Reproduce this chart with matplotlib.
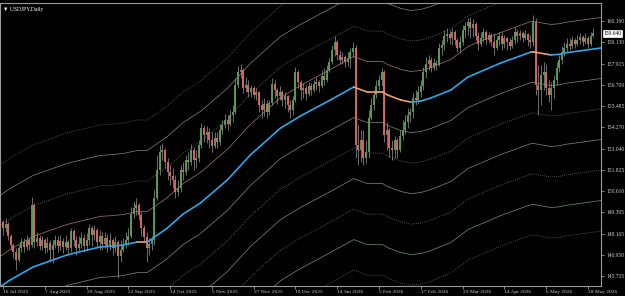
import matplotlib

matplotlib.use("Agg")

import matplotlib.pyplot as plt
import numpy as np

plt.rcParams["font.family"] = ["Liberation Serif", "DejaVu Sans"]

# daily candles, USDJPY, 16 Jul 2025 onwards (bar index = trading day)
first_open = 148.83
closes = [
    148.48, 148.71, 148.03, 147.51, 147.11, 146.65, 147.34, 147.68, 147.40, 147.80,
    147.51, 149.80, 147.68, 147.91, 147.45, 147.80, 147.34, 147.62, 147.22, 147.51,
    147.80, 147.45, 147.74, 147.40, 147.68, 147.34, 148.31, 147.80, 147.34, 147.57,
    147.91, 147.45, 147.80, 148.48, 148.08, 148.37, 147.68, 148.03, 147.57, 147.91,
    147.45, 147.80, 147.34, 147.68, 146.88, 147.22, 147.51, 147.80, 148.03, 149.29,
    149.63, 149.80, 149.23, 148.48, 147.97, 147.34, 147.57, 147.80, 150.20, 151.81,
    152.84, 152.96, 152.27, 151.70, 151.47, 151.24, 150.55, 150.78, 151.81, 151.70,
    152.38, 152.27, 152.96, 152.38, 152.50, 153.24, 154.22, 153.82, 153.99, 153.53,
    153.19, 153.65, 153.42, 154.10, 154.39, 154.68, 154.45, 154.96, 155.14, 156.69,
    157.43, 157.55, 156.51, 156.69, 156.28, 156.51, 156.11, 156.28, 155.54, 155.25,
    155.60, 155.14, 155.65, 156.74, 156.40, 156.05, 156.28, 155.83, 156.05, 155.54,
    155.25, 155.83, 157.43, 156.86, 156.40, 156.51, 156.17, 156.63, 156.40, 156.74,
    156.86, 156.63, 157.20, 156.97, 157.55, 158.00, 158.69, 159.15, 158.41, 158.12,
    158.29, 158.00, 158.23, 158.58, 158.81, 153.24, 152.96, 153.53, 152.50, 152.84,
    154.79, 155.54, 156.11, 156.63, 156.97, 157.43, 153.82, 154.10, 153.07, 152.96,
    153.53, 152.96, 153.76, 154.10, 154.56, 154.96, 155.14, 155.94, 155.83, 156.28,
    156.63, 157.43, 157.89, 158.12, 157.66, 157.95, 157.83, 158.81, 158.98, 159.50,
    159.61, 159.38, 159.72, 159.27, 158.81, 159.15, 159.84, 160.07, 160.30, 159.95,
    160.18, 159.50, 159.04, 159.38, 159.72, 159.27, 159.55, 159.15, 158.81, 159.27,
    159.50, 159.04, 159.38, 159.15, 158.92, 159.27, 159.72, 159.50, 159.67, 159.38,
    159.61, 159.27, 159.15, 160.30, 156.69, 156.40, 157.26, 157.43, 156.51, 156.11,
    156.51, 156.97, 157.66, 158.12, 158.58, 158.81, 159.04, 158.92, 159.27, 159.04,
    159.27, 159.44, 159.15, 159.38, 159.04, 159.50, 159.67,
]
highs = [
    148.94, 149.06, 148.83, 148.14, 147.62, 147.34, 147.51, 147.91, 147.91, 148.08,
    147.91, 150.26, 149.92, 148.25, 148.08, 148.03, 147.91, 147.97, 147.80, 147.80,
    148.08, 148.03, 148.08, 147.91, 148.08, 147.80, 148.48, 148.43, 148.03, 148.03,
    148.25, 148.14, 148.20, 148.71, 148.60, 148.66, 148.48, 148.37, 148.25, 148.25,
    148.14, 148.20, 147.91, 148.03, 147.80, 147.80, 147.91, 148.25, 148.48, 149.69,
    149.98, 150.20, 149.92, 149.40, 148.66, 148.25, 147.91, 148.03, 150.66, 152.67,
    153.24, 153.36, 153.07, 152.50, 152.10, 151.93, 151.52, 151.24, 152.10, 152.27,
    152.67, 152.84, 153.30, 153.13, 152.96, 153.53, 154.50, 154.39, 154.33, 154.22,
    153.99, 153.99, 153.99, 154.45, 154.68, 155.02, 154.96, 155.25, 155.54, 157.09,
    157.77, 157.89, 157.66, 157.14, 156.97, 156.69, 156.63, 156.51, 156.28, 155.83,
    155.94, 155.83, 155.83, 157.09, 156.97, 156.51, 156.63, 156.40, 156.28, 156.11,
    155.83, 156.05, 157.72, 157.55, 156.97, 156.80, 156.69, 156.86, 156.80, 156.97,
    157.14, 156.97, 157.55, 157.66, 157.83, 158.23, 158.98, 159.50, 159.27, 158.69,
    158.58, 158.41, 158.58, 158.81, 159.15, 158.98, 154.39, 154.10, 154.10, 153.53,
    155.25, 155.94, 156.40, 156.97, 157.26, 157.66, 157.55, 154.56, 154.22, 153.53,
    153.76, 153.65, 154.10, 154.68, 154.96, 155.37, 155.37, 156.23, 156.40, 156.63,
    156.97, 157.72, 158.29, 158.41, 158.29, 158.23, 158.12, 159.09, 159.27, 159.84,
    159.95, 159.84, 159.95, 159.84, 159.38, 159.50, 160.13, 160.30, 160.53, 160.59,
    160.47, 160.30, 159.72, 159.72, 159.95, 159.84, 159.72, 159.67, 159.67, 159.50,
    159.72, 159.72, 159.55, 159.44, 159.38, 159.50, 160.01, 159.90, 159.84, 159.78,
    159.84, 159.67, 159.55, 160.70, 160.53, 157.83, 157.83, 158.00, 157.89, 156.97,
    156.86, 157.26, 158.00, 158.41, 158.92, 159.15, 159.38, 159.38, 159.50, 159.38,
    159.55, 159.67, 159.55, 159.67, 159.50, 159.72, 159.95,
]
lows = [
    148.08, 148.25, 147.80, 147.22, 146.76, 146.08, 146.54, 147.11, 147.11, 147.22,
    147.22, 147.40, 147.34, 147.45, 147.22, 147.22, 147.05, 147.11, 146.54, 146.48,
    147.34, 147.11, 147.22, 147.05, 147.22, 146.94, 147.11, 147.45, 146.94, 147.11,
    147.34, 147.11, 147.22, 147.51, 147.45, 147.80, 147.34, 147.22, 147.22, 147.34,
    147.11, 147.22, 146.94, 147.11, 145.62, 146.54, 147.11, 147.34, 147.51, 147.91,
    149.06, 149.23, 148.94, 148.03, 147.68, 146.54, 146.94, 147.22, 147.51, 150.09,
    151.52, 152.38, 151.93, 151.24, 150.95, 150.78, 150.20, 150.32, 150.55, 151.24,
    151.52, 151.81, 152.10, 151.81, 151.93, 152.27, 153.07, 153.42, 153.36, 153.07,
    152.84, 153.07, 153.07, 153.24, 153.88, 154.22, 154.10, 154.33, 154.56, 155.02,
    156.51, 157.09, 156.23, 156.28, 156.00, 156.00, 155.94, 155.83, 155.14, 154.79,
    154.91, 154.79, 154.96, 155.54, 155.94, 155.60, 155.83, 155.48, 155.37, 155.14,
    154.79, 154.96, 155.71, 156.51, 155.83, 155.94, 155.83, 156.05, 156.11, 156.28,
    156.40, 156.28, 156.51, 156.69, 156.86, 157.43, 157.89, 158.35, 158.12, 157.89,
    157.89, 157.72, 157.77, 157.66, 158.29, 152.50, 152.10, 152.27, 152.10, 152.21,
    152.50, 154.68, 155.25, 155.94, 156.40, 156.63, 153.42, 152.96, 152.56, 152.38,
    152.50, 152.50, 152.84, 153.53, 153.88, 154.22, 154.56, 154.79, 155.54, 155.60,
    156.00, 156.40, 157.09, 157.55, 157.43, 157.55, 157.55, 157.77, 158.41, 158.69,
    159.15, 159.04, 158.98, 158.98, 158.58, 158.52, 158.98, 159.38, 159.55, 159.38,
    159.44, 159.27, 158.69, 158.92, 159.15, 159.04, 159.09, 158.92, 158.41, 158.69,
    158.98, 158.69, 158.81, 158.69, 158.69, 158.81, 159.04, 159.15, 159.27, 159.15,
    159.27, 158.92, 158.81, 158.92, 156.11, 154.96, 155.54, 156.40, 156.11, 155.71,
    155.25, 155.94, 156.69, 157.43, 157.89, 158.35, 158.58, 158.69, 158.75, 158.81,
    158.92, 159.04, 158.92, 159.04, 158.81, 158.92, 159.44,
]

# moving average at these bar positions
ma_bar = [-1.2, 2.7, 11.5, 24.5, 32.2, 37.2, 42.2, 46, 51.4, 55.2, 56.4, 62.9, 69,
          75.6, 85.9, 94.7, 106.3, 113.9, 125.4, 134.3, 139.6, 143.5, 145.4, 147.3,
          152.3, 156.1, 160, 163.8, 171.5, 178, 190.6, 202.2, 203.3, 209.8, 213.7,
          214.8, 229]
ma_val = [145.10, 145.50, 146.25, 146.94, 147.22, 147.40, 147.45, 147.51, 147.68,
          147.68, 147.80, 148.48, 149.29, 149.92, 151.24, 152.67, 154.22, 154.91,
          155.83, 156.57, 156.28, 156.28, 156.28, 156.11, 155.83, 155.71, 155.77,
          155.94, 156.40, 157.14, 157.95, 158.58, 158.58, 158.41, 158.46, 158.52,
          158.81]
band_step = 1.75

price_ticks = [160.360, 159.130, 157.915, 156.700, 155.485, 154.270, 153.040,
               151.825, 150.610, 149.395, 148.165, 146.950, 145.735]
date_labels = ["16 Jul 2025", "7 Aug 2025", "29 Aug 2025", "22 Sep 2025",
               "14 Oct 2025", "5 Nov 2025", "27 Nov 2025", "19 Dec 2025",
               "14 Jan 2026", "5 Feb 2026", "27 Feb 2026", "23 Mar 2026",
               "14 Apr 2026", "6 May 2026", "28 May 2026"]
last_price = 159.640

closes = np.array(closes)
opens = np.concatenate([[first_open], closes[:-1]])
highs = np.array(highs)
lows = np.array(lows)
idx = np.arange(len(closes))
ma_bar = np.array(ma_bar)
ma_val = np.array(ma_val)

fig = plt.figure(figsize=(6.25, 2.96), dpi=100, facecolor="black")
ax = fig.add_axes([0.0, 10 / 296, 601 / 625, 283 / 296], facecolor="black")

# envelope bands around the average
band_styles = {
    4: ("#6e6e6e", ":"), 3: ("#7a7a7a", "-"), 2: ("#7e7e7e", ":"), 1: ("#9a6e62", "-"),
    -1: ("#7e7e70", "-"), -2: ("#728472", ":"), -3: ("#728472", "-"),
    -4: ("#728472", ":"), -5: ("#638c63", "-"), -6: ("#627a62", ":"),
}
for k, (col, ls) in band_styles.items():
    ax.plot(ma_bar, ma_val + k * band_step, color=col, ls=ls, lw=0.55, zorder=1)

# candles: thin wick, thicker body drawn on top
up = closes >= opens
ax.vlines(idx, lows, highs, colors="#a8a8a8", lw=0.45, zorder=2)
top = np.maximum(opens, closes)
bot = np.minimum(opens, closes)
bot = np.where(top - bot < 0.03, top - 0.03, bot)
ax.vlines(idx, bot, top, colors=np.where(up, "#56a056", "#e4646a"), lw=1.35,
          zorder=3)

# moving average, blue while rising, orange otherwise
for a in range(len(ma_bar) - 1):
    col = "#2aa7e8" if ma_val[a + 1] > ma_val[a] else "#e8a070"
    ax.plot(ma_bar[a:a + 2], ma_val[a:a + 2], color=col, lw=1.2,
            solid_capstyle="round", zorder=4)

ax.set_xlim(-1.15, 229.0)
ax.set_ylim(145.16, 161.39)

for s in ax.spines.values():
    s.set_color("#9a9a9a")
    s.set_linewidth(0.8)

ax.yaxis.tick_right()
ax.set_yticks(price_ticks)
ax.set_yticklabels([f"{v:.3f}" for v in price_ticks])
ax.tick_params(axis="y", colors="#9a9a9a", labelcolor="#d0d0d0", labelsize=4.0,
               length=2.0, width=0.6, pad=2)

ax.set_xticks(np.arange(0, 16 * len(date_labels), 16))
ax.set_xticklabels(date_labels)
for lab in ax.get_xticklabels():
    lab.set_horizontalalignment("left")
ax.tick_params(axis="x", colors="#9a9a9a", labelcolor="#d0d0d0", labelsize=3.9,
               length=2.0, width=0.6, pad=1)

ax.text(1.004, last_price, f"{last_price:.3f}", transform=ax.get_yaxis_transform(),
        fontsize=4.0, color="black", va="center", ha="left",
        bbox=dict(boxstyle="square,pad=0.12", fc="white", ec="white", lw=0.5))

ax.text(0.005, 0.985, "\u25bc USDJPY,Daily", transform=ax.transAxes, fontsize=4.0,
        color="white", va="top", ha="left")

fig.savefig("out.png", dpi=100, facecolor="black")
